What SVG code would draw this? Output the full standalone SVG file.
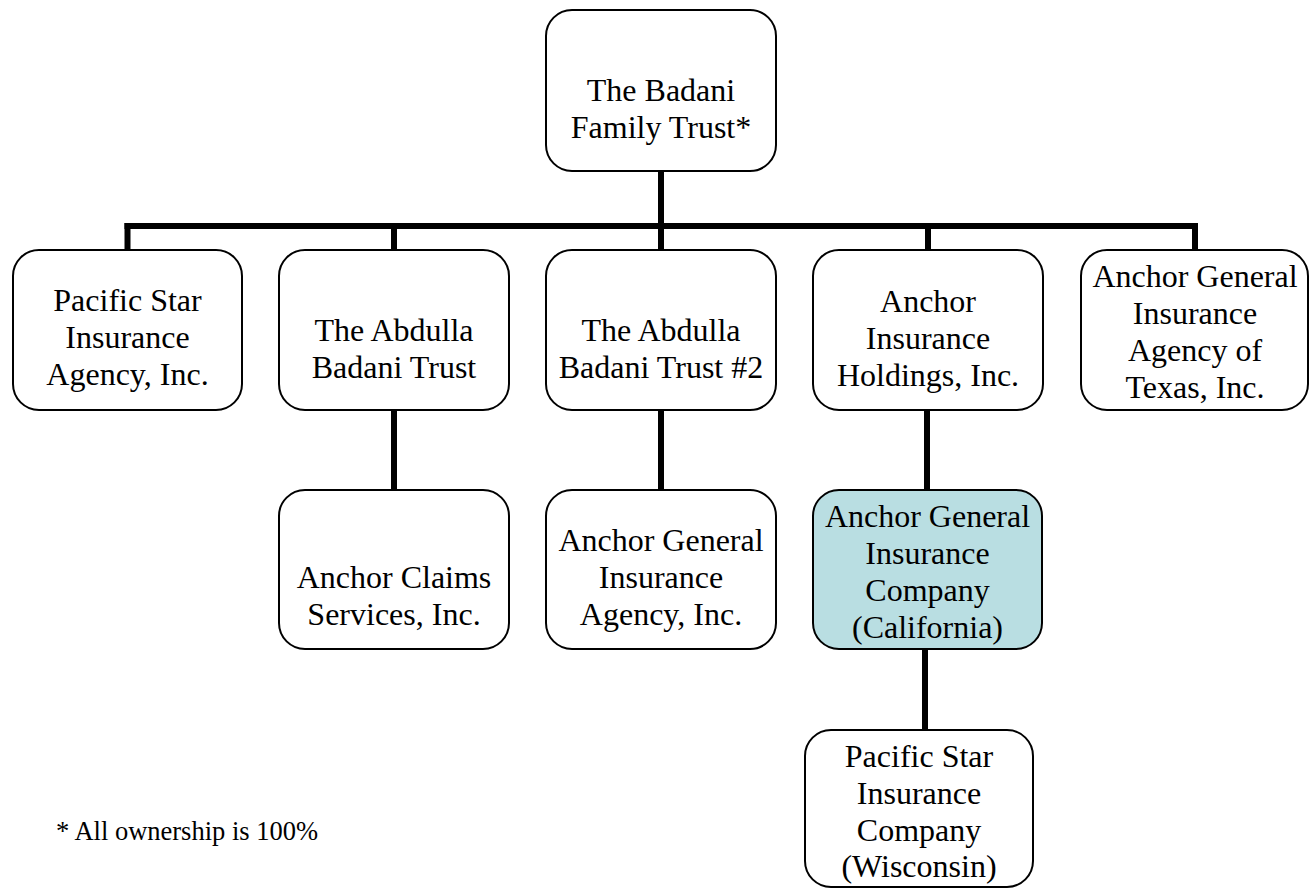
<svg xmlns="http://www.w3.org/2000/svg" width="1309" height="888" viewBox="0 0 1309 888">
<style>
.box{fill:#ffffff;stroke:#000000;stroke-width:2}
.hl{fill:#b9dee2}
.t{font-family:"Liberation Serif","Times New Roman",serif;font-size:32px;fill:#000000;text-anchor:middle}
.note{font-family:"Liberation Serif","Times New Roman",serif;font-size:26.5px;fill:#000000}
.c{stroke:#000000;stroke-width:6;fill:none;stroke-linecap:butt}
</style>
<rect width="1309" height="888" fill="#ffffff"/>
<g id="connectors">
<line class="c" x1="661" y1="171" x2="661" y2="226"/>
<line class="c" x1="124.5" y1="226" x2="1198" y2="226"/>
<line class="c" x1="127.5" y1="223" x2="127.5" y2="250"/>
<line class="c" x1="394" y1="223" x2="394" y2="250"/>
<line class="c" x1="661" y1="223" x2="661" y2="250"/>
<line class="c" x1="928" y1="223" x2="928" y2="250"/>
<line class="c" x1="1195" y1="223" x2="1195" y2="250"/>
<line class="c" x1="394" y1="410" x2="394" y2="490"/>
<line class="c" x1="661" y1="410" x2="661" y2="490"/>
<line class="c" x1="927" y1="410" x2="927" y2="490"/>
<line class="c" x1="925" y1="649" x2="925" y2="730"/>
</g>
<g id="n-family-trust">
<rect class="box" x="546" y="10" width="230" height="161" rx="26"/>
<text class="t" x="661" y="101">The Badani</text>
<text class="t" x="661" y="138">Family Trust*</text>
</g>
<g id="n-pacific-star-agency">
<rect class="box" x="13" y="250" width="229" height="160" rx="26"/>
<text class="t" x="127.5" y="311">Pacific Star</text>
<text class="t" x="127.5" y="348">Insurance</text>
<text class="t" x="127.5" y="385">Agency, Inc.</text>
</g>
<g id="n-abdulla-trust">
<rect class="box" x="279" y="250" width="230" height="160" rx="26"/>
<text class="t" x="394" y="341">The Abdulla</text>
<text class="t" x="394" y="378">Badani Trust</text>
</g>
<g id="n-abdulla-trust-2">
<rect class="box" x="546" y="250" width="230" height="160" rx="26"/>
<text class="t" x="661" y="341">The Abdulla</text>
<text class="t" x="661" y="378">Badani Trust #2</text>
</g>
<g id="n-anchor-holdings">
<rect class="box" x="813" y="250" width="230" height="160" rx="26"/>
<text class="t" x="928" y="312">Anchor</text>
<text class="t" x="928" y="349">Insurance</text>
<text class="t" x="928" y="386">Holdings, Inc.</text>
</g>
<g id="n-anchor-texas">
<rect class="box" x="1081" y="250" width="227" height="160" rx="26"/>
<text class="t" x="1195" y="287">Anchor General</text>
<text class="t" x="1195" y="324">Insurance</text>
<text class="t" x="1195" y="361">Agency of</text>
<text class="t" x="1195" y="398">Texas, Inc.</text>
</g>
<g id="n-anchor-claims">
<rect class="box" x="279" y="490" width="230" height="159" rx="26"/>
<text class="t" x="394" y="588">Anchor Claims</text>
<text class="t" x="394" y="625">Services, Inc.</text>
</g>
<g id="n-anchor-agency">
<rect class="box" x="546" y="490" width="230" height="159" rx="26"/>
<text class="t" x="661" y="551">Anchor General</text>
<text class="t" x="661" y="588">Insurance</text>
<text class="t" x="661" y="625">Agency, Inc.</text>
</g>
<g id="n-anchor-california">
<rect class="box hl" x="813" y="490" width="229" height="159" rx="26"/>
<text class="t" x="927.5" y="527">Anchor General</text>
<text class="t" x="927.5" y="564">Insurance</text>
<text class="t" x="927.5" y="601">Company</text>
<text class="t" x="927.5" y="638">(California)</text>
</g>
<g id="n-pacific-star-wisconsin">
<rect class="box" x="805" y="730" width="228" height="157" rx="26"/>
<text class="t" x="919" y="767">Pacific Star</text>
<text class="t" x="919" y="804">Insurance</text>
<text class="t" x="919" y="841">Company</text>
<text class="t" x="919" y="877">(Wisconsin)</text>
</g>
<g id="footnote">
<text class="note" x="56" y="840">* All ownership is 100%</text>
</g>
</svg>
